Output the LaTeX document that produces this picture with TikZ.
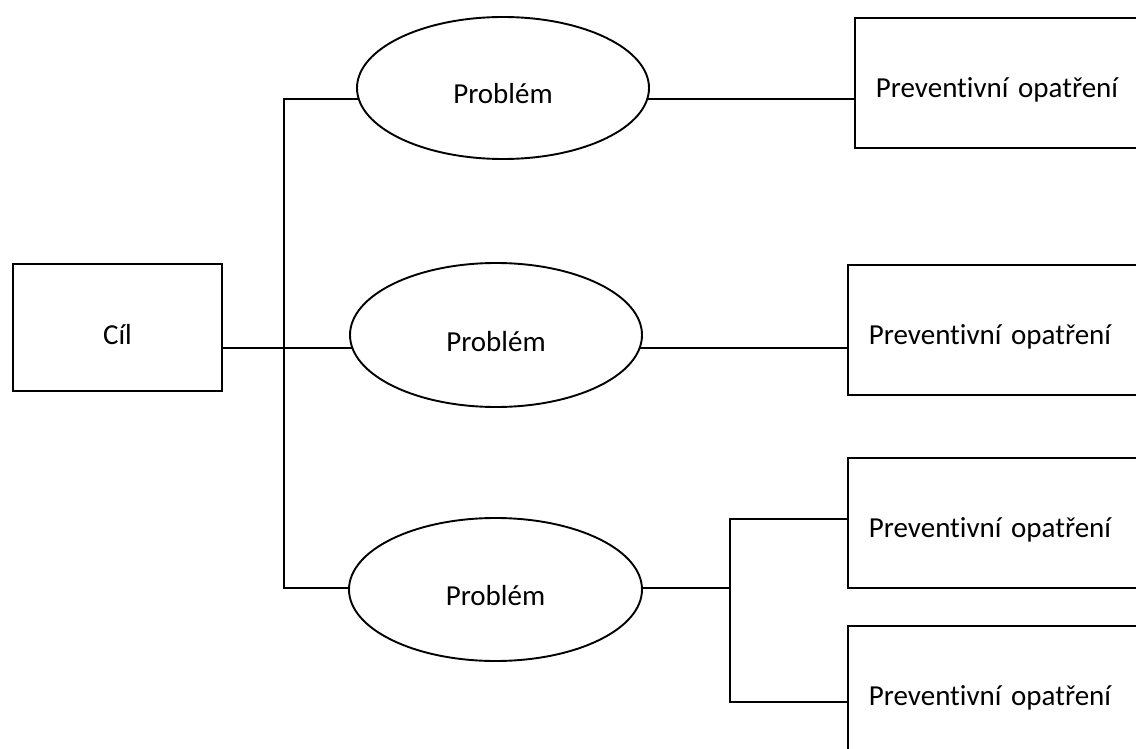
\documentclass[tikz,border=0pt]{standalone}
\usepackage{fontspec}
\setmainfont{Carlito}[RawFeature={-liga;-clig;-calt;-dlig}]
\usetikzlibrary{shapes.geometric,backgrounds,calc}

\tikzset{
  every picture/.style={x=1pt,y=-1pt},
  conn/.style={line width=1.9pt,line join=miter},
  goalbox/.style={draw,line width=1.9pt,fill=white,rectangle,inner sep=0pt,
    minimum width=209pt,minimum height=127pt,text height=33pt,text depth=0pt},
  problem/.style={draw,line width=1.9pt,fill=white,ellipse,inner sep=0pt,
    text height=32pt,text depth=0pt},
  measure/.style={draw,line width=1.9pt,fill=white,rectangle,anchor=north west,
    inner xsep=21pt,inner ysep=0pt,text width=358pt,align=left,
    minimum height=130pt,text height=30pt,text depth=0pt},
}

\begin{document}
\begin{tikzpicture}[font=\fontsize{29}{35}\selectfont]
  \useasboundingbox (0,0) rectangle (1136,749);
  \clip (0,0) rectangle (1136,749);

  % goal
  \node[goalbox] (cil) at (117.5,327.5) {Cíl};

  % problems
  \node[problem,minimum width=292pt,minimum height=142pt] (e1) at (503,88) {Problém};
  \node[problem,minimum width=292pt,minimum height=144pt] (e2) at (496,335) {Problém};
  \node[problem,minimum width=293pt,minimum height=143pt] (e3) at (495.5,589.5) {Problém};

  % preventive measures
  \node[measure] (b1) at (854,17)  {Preventivní opatření};
  \node[measure] (b2) at (847,264) {Preventivní opatření};
  \node[measure] (b3) at (847,457) {Preventivní opatření};
  \node[measure] (b4) at (847,625) {Preventivní opatření};

  % junction points of the tree lines
  \coordinate (j1) at (284,99);
  \coordinate (jm) at (284,348);
  \coordinate (j3) at (284,588);
  \coordinate (k0) at (730,588);
  \coordinate (k1) at (730,519);
  \coordinate (k2) at (730,702);

  % lines run a little under the filled ellipses so they meet the curved border
  \begin{scope}[on background layer]
    \draw[conn] (cil.east |- jm) -- ($(e2.west |- jm)+(6,0)$);
    \draw[conn] ($(e1.west |- j1)+(6,0)$) -- (j1) -- (j3) -- ($(e3.west |- j3)+(6,0)$);
    \draw[conn] ($(e1.east |- j1)+(-6,0)$) -- (b1.west |- j1);
    \draw[conn] ($(e2.east |- jm)+(-6,0)$) -- (b2.west |- jm);
    \draw[conn] ($(e3.east |- k0)+(-6,0)$) -- (k0);
    \draw[conn] (b3.west |- k1) -- (k1) -- (k2) -- (b4.west |- k2);
  \end{scope}
\end{tikzpicture}
\end{document}
